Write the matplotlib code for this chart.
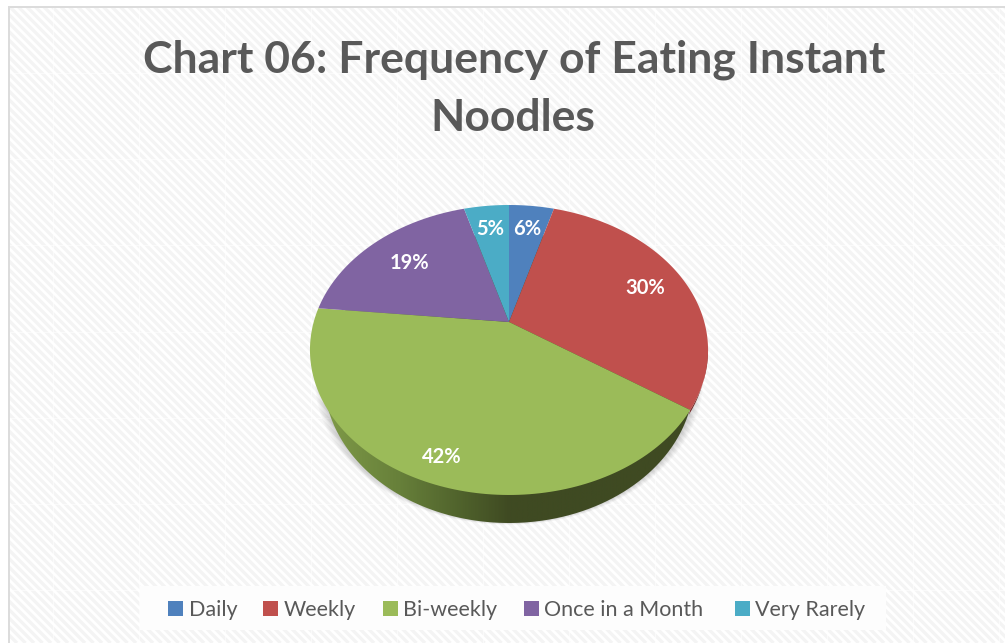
import numpy as np
import matplotlib
matplotlib.use("Agg")
import matplotlib.pyplot as plt
from matplotlib.collections import LineCollection
from matplotlib.colors import LinearSegmentedColormap
from matplotlib.patches import Polygon, Rectangle

title_lines = ["Chart 06: Frequency of Eating Instant", "Noodles"]
categories = ["Daily", "Weekly", "Bi-weekly", "Once in a Month", "Very Rarely"]
# slice sizes as drawn; the printed labels do not add up to the same thing
shares = [4.4, 30.1, 42.1, 19.0, 4.4]
value_labels = ["6%", "30%", "42%", "19%", "5%"]

colors = ["#4f81bd", "#c0504d", "#9bbb59", "#8064a2", "#4bacc6"]
label_xy = [(527, 229), (645, 288), (442, 457), (409, 263), (490, 229)]
legend_box_x = [168, 263, 383, 524, 735]
legend_text_x = [189, 284, 403, 544, 755]

W, H = 1005, 643
CX, CY = 509, 322
PERSP, A, D = 0.193, 139.6, 195.3


def rim(theta):
    # clockwise from 12 o'clock, projected so the apex sits above the ellipse centre
    w = 1 + PERSP * np.cos(theta)
    return CX + D * np.sin(theta) / w, CY - A * np.cos(theta) / w


def base_outline(theta, grow=0.0, drop=28.0):
    x, y = rim(theta)
    return CX + (x - CX) * (0.93 + grow), y + drop + grow * 60


fig = plt.figure(figsize=(W / 100, H / 100), dpi=100, facecolor="white")
ax = fig.add_axes([0, 0, 1, 1])

# background: diagonal stripes, faint tile seams, chart border
panel = Rectangle((10, 8), W - 10, H - 8, facecolor="#ffffff", edgecolor="none", zorder=0)
ax.add_patch(panel)
offsets = np.arange(-H, W, 8.5)
stripes = LineCollection([[(c, 0), (c + H, H)] for c in offsets], colors="#f4f4f4", linewidths=2.3, zorder=1)
ax.add_collection(stripes)
stripes.set_clip_path(panel)
for sx in np.arange(53, W, 86):
    ax.plot([sx, sx], [8, H], color="#ffffff", alpha=0.6, lw=0.8, zorder=1)
for sy in np.arange(73, H, 86.2):
    ax.plot([10, W], [sy, sy], color="#ffffff", alpha=0.6, lw=0.8, zorder=1)
ax.add_patch(Rectangle((8, 6), W - 8, 2.2, facecolor="#dcdcdc", edgecolor="none", zorder=2))
ax.add_patch(Rectangle((8, 6), 2.2, H - 6, facecolor="#dcdcdc", edgecolor="none", zorder=2))

# soft shadow under the pie
theta = np.linspace(0, 2 * np.pi, 400)
for step in np.linspace(0.045, 0.005, 8):
    sx, sy = base_outline(theta, grow=step, drop=27)
    ax.fill(sx, sy, color="#000000", alpha=0.022, lw=0, zorder=3)

# side wall, shaded from the left
wall_cmap = LinearSegmentedColormap.from_list(
    "wall", [(0.0, "#7f9a48"), (0.2, "#67803a"), (0.38, "#4e602b"), (0.5, "#3f4a22"), (1.0, "#3f4a22")]
)
bx, by = base_outline(theta)
wall_img = ax.imshow(
    np.linspace(0, 1, 400).reshape(1, -1), cmap=wall_cmap, extent=(bx.min(), bx.max(), by.max(), by.min()),
    aspect="auto", zorder=4,
)
wall_img.set_clip_path(Polygon(np.column_stack([bx, by]), transform=ax.transData))

edges = np.cumsum([0] + shares) / sum(shares) * 2 * np.pi

# thin piece of the Weekly wall showing past the rim
sliver = np.linspace(np.radians(100), edges[2], 40)
rx, ry = rim(sliver)
ax.fill(np.r_[rx, rx[::-1] - 1.5], np.r_[ry, ry[::-1] + 5], color="#7a2b29", lw=0, zorder=4)

# top face
for i, share in enumerate(shares):
    t = np.linspace(edges[i], edges[i + 1], 120)
    x, y = rim(t)
    ax.fill(np.r_[CX, x], np.r_[CY, y], color=colors[i], lw=0, zorder=5)

for label, (lx, ly) in zip(value_labels, label_xy):
    ax.text(lx, ly, label, color="white", fontsize=14.5, fontweight="bold", family="Lato", ha="center", va="center", zorder=6)

ax.text(514, 72, title_lines[0], color="#595959", fontsize=32, fontweight="bold", family="Lato", ha="center", va="baseline", zorder=6)
ax.text(513, 131, title_lines[1], color="#595959", fontsize=32, fontweight="bold", family="Lato", ha="center", va="baseline", zorder=6)

# legend
ax.add_patch(Rectangle((140, 586), 746, 44, facecolor="#fdfdfd", edgecolor="none", zorder=2))
for name, color, bx0, tx0 in zip(categories, colors, legend_box_x, legend_text_x):
    ax.add_patch(Rectangle((bx0, 601), 15, 15, facecolor=color, edgecolor="none", zorder=6))
    ax.text(tx0, 616, name, color="#595959", fontsize=15.5, family="Lato", ha="left", va="baseline", zorder=6)

ax.set_xlim(0, W)
ax.set_ylim(H, 0)
ax.axis("off")

fig.savefig("out.png", dpi=100)
